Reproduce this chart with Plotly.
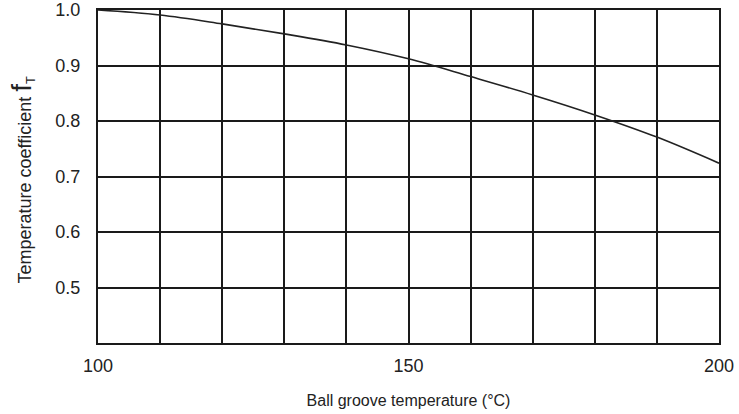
import plotly.graph_objects as go

temperature = [100, 110, 120, 130, 140, 150, 160, 170, 180, 190, 200]
coefficient = [1.0, 0.991, 0.975, 0.957, 0.937, 0.912, 0.880, 0.847, 0.811, 0.771, 0.724]

x_tick_vals = [100, 150, 200]
x_tick_text = ["100", "150", "200"]
y_tick_vals = [0.5, 0.6, 0.7, 0.8, 0.9, 1.0]
y_tick_text = ["0.5", "0.6", "0.7", "0.8", "0.9", "1.0"]

FONT = "Liberation Sans, Arial, sans-serif"

fig = go.Figure()
fig.add_trace(go.Scatter(x=temperature, y=coefficient, mode="lines",
                         line=dict(color="#222222", width=1.6, shape="spline"),
                         showlegend=False, cliponaxis=False))

fig.update_layout(
    width=739, height=414,
    margin=dict(l=98, r=20, t=10, b=71),
    paper_bgcolor="white", plot_bgcolor="white",
    font=dict(family=FONT, color="#222222"),
    xaxis=dict(range=[100, 200], tickvals=x_tick_vals, ticktext=x_tick_text,
               automargin=False,
               showgrid=True, gridcolor="#1a1a1a", gridwidth=2,
               minor=dict(dtick=10, showgrid=True, gridcolor="#1a1a1a", gridwidth=2),
               showline=True, linecolor="#1a1a1a", linewidth=2, mirror=True,
               zeroline=False, ticks="", tickfont=dict(size=18, family=FONT),
               ticklabelstandoff=5,
               title=dict(text="Ball groove temperature (°C)", font=dict(size=16, family=FONT),
                          standoff=20)),
    yaxis=dict(range=[0.4, 1.0], tickvals=y_tick_vals, ticktext=y_tick_text,
               automargin=False,
               showgrid=True, gridcolor="#1a1a1a", gridwidth=2,
               showline=True, linecolor="#1a1a1a", linewidth=2, mirror=True,
               zeroline=False, ticks="", tickfont=dict(size=18, family=FONT),
               ticklabelstandoff=12),
)

fig.add_annotation(
    text="Temperature coefficient <span style='font-size:28px'>f</span><sub>T</sub>",
    xref="paper", yref="paper", x=-0.123, y=0.49, xanchor="center", yanchor="middle",
    textangle=-90, showarrow=False, font=dict(size=18, family=FONT, color="#222222"))

fig.write_html("out.html")
